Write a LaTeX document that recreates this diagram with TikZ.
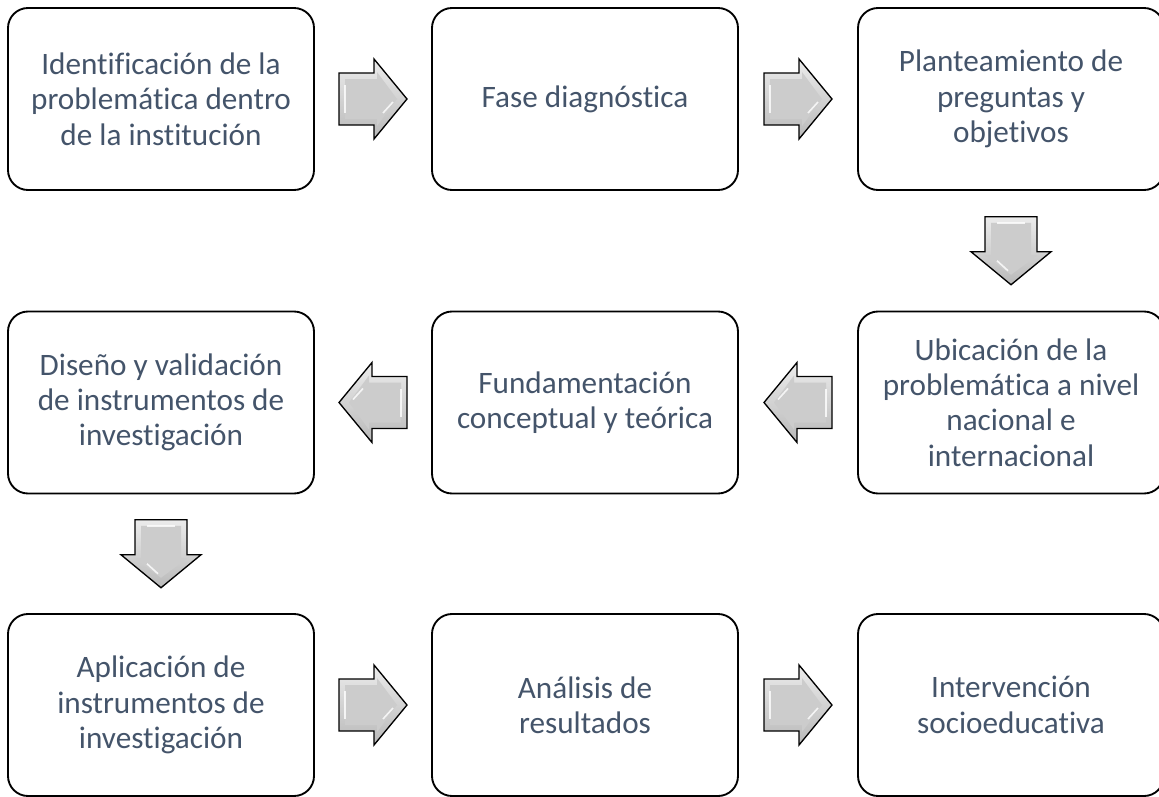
\documentclass[tikz,border=0pt]{standalone}
\usepackage{fontspec}
\setmainfont[Ligatures=NoCommon]{Carlito}
\usetikzlibrary{
	calc,               %midpoints between boxes
	positioning
}
\definecolor{textslate}{HTML}{44546A}
\tikzset{
	stage/.style={rectangle,
		draw=black,
		line width=1.4pt,
		rounded corners=15pt,
		minimum width=229.5pt,
		minimum height=136.5pt,
		align=center,
		text=textslate,
		font=\fontsize{23.4}{26.5}\selectfont
	},
	blockarrow/.pic={
		% gray block arrow pointing to the right
		\draw[line width=1pt, top color=gray!15, bottom color=gray!55, shading angle=0]
		(-34,-26) -- (1,-26) -- (1,-40) -- (34,0) -- (1,40) -- (1,26) -- (-34,26) -- cycle;
		\fill[gray!40] (-28,-20) -- (4,-20) -- (4,-27) -- (24,0) -- (4,27) -- (4,20) -- (-28,20) -- cycle;
		\draw[white, line width=1.2pt, opacity=.8] (-28,-14) -- (-28,14);
		\draw[white, line width=1.2pt, opacity=.8] (10,14) -- (20,3);
	}
}

\begin{document}
\begin{tikzpicture}[x=0.75pt, y=-0.75pt]
\useasboundingbox (0,0) rectangle (1159,796);
% first row
\node[stage] (iden) at (161,99) {Identificación de la\\problemática dentro\\de la institución};
\node[stage] (fase) at (585,99) {Fase diagnóstica};
\node[stage] (plan) at (1011,99) {Planteamiento de\\preguntas y\\objetivos};
% second row
\node[stage] (ubic) at (1011,402.5) {Ubicación de la\\problemática a nivel\\nacional e\\internacional};
\node[stage] (fund) at (585,402.5) {Fundamentación\\conceptual y teórica};
\node[stage] (dise) at (161,402.5) {Diseño y validación\\de instrumentos de\\investigación};
% third row
\node[stage] (apli) at (161,705) {Aplicación de\\instrumentos de\\investigación};
\node[stage] (anal) at (585,705) {Análisis de\\resultados};
\node[stage] (inter) at (1011,705) {Intervención\\socioeducativa};
% arrows
\pic at ($(iden.east)!.5!(fase.west)$) {blockarrow};
\pic at ($(fase.east)!.5!(plan.west)$) {blockarrow};
\pic[rotate=-90] at ($(plan.south)!.5!(ubic.north)$) {blockarrow};
\pic[rotate=180] at ($(ubic.west)!.5!(fund.east)$) {blockarrow};
\pic[rotate=180] at ($(fund.west)!.5!(dise.east)$) {blockarrow};
\pic[rotate=-90] at ($(dise.south)!.5!(apli.north)$) {blockarrow};
\pic at ($(apli.east)!.5!(anal.west)$) {blockarrow};
\pic at ($(anal.east)!.5!(inter.west)$) {blockarrow};
\end{tikzpicture}
\end{document}
